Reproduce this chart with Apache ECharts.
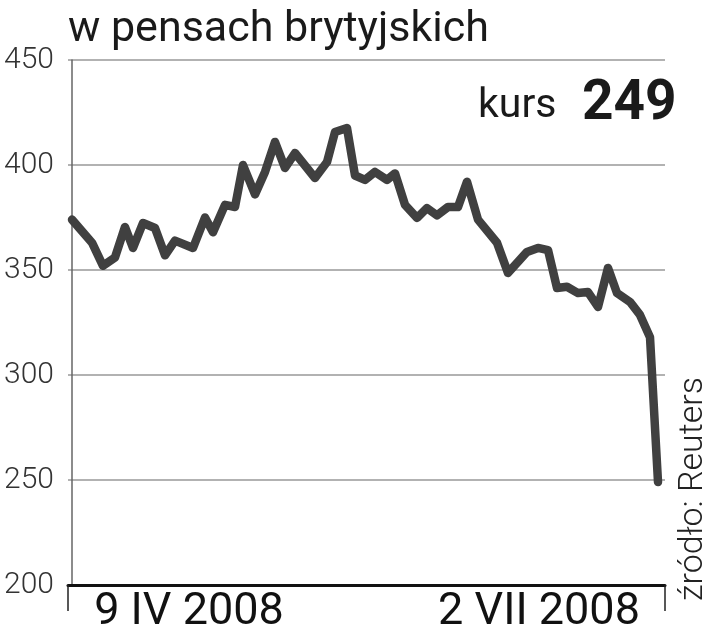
<!DOCTYPE html>
<html><head><meta charset="utf-8">
<script src="https://cdn.jsdelivr.net/npm/echarts@6/dist/echarts.min.js"></script>
<style>html,body{margin:0;padding:0;background:#fff}#c{width:713px;height:640px}</style>
</head><body><div id="c"></div>
<script>
// trading-day position (x) and price in pence (y)
var days = [0,2,3.1,4.3,5.3,6.1,7.1,8.3,9.3,10.3,12.1,13.3,14.1,15.3,16.3,17.1,18.3,19.3,20.3,21.3,22.3,24.3,25.5,26.3,27.5,28.3,29.3,30.3,31.5,32.3,33.3,34.5,35.5,36.5,37.6,38.6,39.5,40.6,42.5,43.6,45.5,46.6,47.6,48.5,49.5,50.6,51.6,52.6,53.6,54.5,55.8,56.8,57.8,58.6];
var prices = [374,363,352,356,370.5,360.5,372.4,370,357,364,360.5,375,368,381,380,400,386,396.7,411,398.6,405.7,393.8,401.4,415.7,417.6,395,392.9,396.7,392.9,396,381,374.8,379.5,376,380,380,392,374,363,348.6,358.6,360.5,359.5,341.4,342,339,339.5,332.4,351,339,334.8,328.6,318,249];
var xTickPos = [11.7, 46.7];
var xTickLabels = ['9 IV 2008', '2 VII 2008'];
var yTicks = [200,250,300,350,400,450];
var titleText = 'w pensach brytyjskich';
var lastLabel = 'kurs';
var lastValue = '249';
var sourceText = 'źródło: Reuters';

var data = days.map(function(d,i){return [d, prices[i]];});
var xMin = -0.4, xMax = 59.3;
var chart = echarts.init(document.getElementById('c'));
chart.setOption({
  animation:false,
  grid:{left:68,right:48,top:60,bottom:55},
  title:{text:titleText,left:63,top:4,textStyle:{fontFamily:'Roboto',fontWeight:'normal',fontSize:43,color:'#1a1a1a'}},
  graphic:[
    {type:'text',left:478,top:86,style:{text:lastLabel,font:'normal 41px Roboto',fill:'#1a1a1a'}},
    {type:'text',left:582,top:78,style:{text:lastValue,font:'bold 55px Roboto',fill:'#1a1a1a'}},
    {type:'text',x:710,y:601,rotation:Math.PI/2,style:{text:sourceText,font:'300 34px Roboto',fill:'#222',align:'left',verticalAlign:'bottom'}}
  ],
  xAxis:{type:'value',min:xMin,max:xMax,
    axisLine:{show:true,lineStyle:{color:'#111',width:3}},
    axisTick:{show:true,customValues:[xMin,xMax],length:26,lineStyle:{color:'#222',width:1.5}},
    axisLabel:{show:true,customValues:xTickPos,margin:5,fontFamily:'Roboto',fontSize:45,color:'#111',
      formatter:function(v){var i=xTickPos.indexOf(v);return i>=0?xTickLabels[i]:'';}},
    splitLine:{show:false}},
  yAxis:{type:'value',min:200,max:450,interval:50,
    axisLine:{show:true,lineStyle:{color:'#666',width:1.5}},
    axisTick:{show:false},
    axisLabel:{margin:14,fontFamily:'Roboto',fontWeight:300,fontSize:30,color:'#333',
      formatter:function(v){return yTicks.indexOf(v)>=0?String(v):'';}},
    splitLine:{show:true,lineStyle:{color:'#999',width:1.5}}},
  series:[{type:'line',data:data,showSymbol:false,symbol:'none',
    lineStyle:{color:'#404040',width:8.5,join:'round',cap:'round'}}]
});
</script></body></html>
